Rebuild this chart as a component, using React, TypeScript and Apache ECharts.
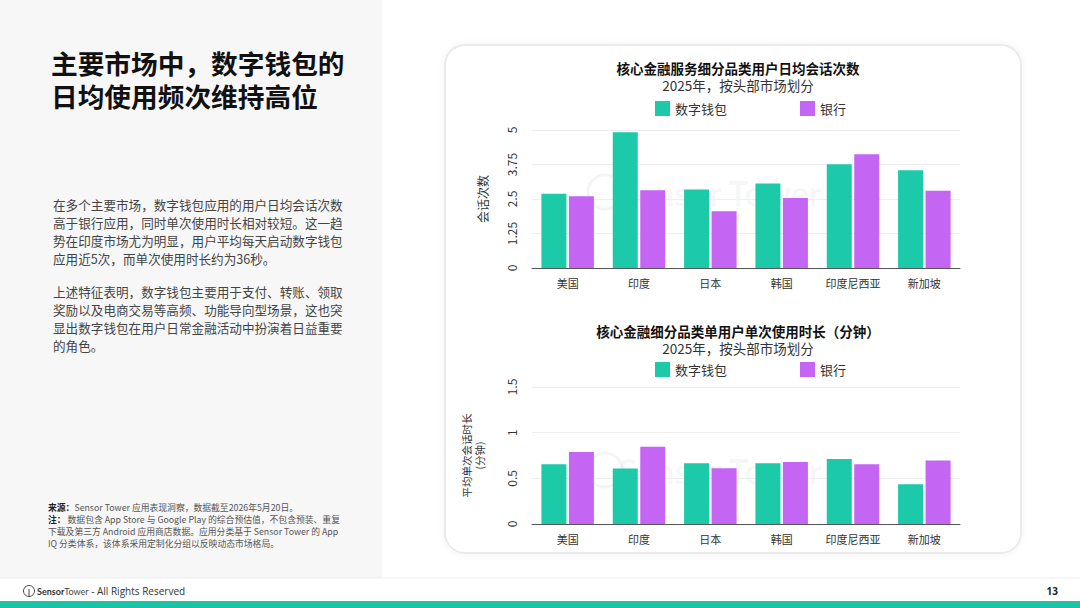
import React, { useEffect, useRef } from "react";
import * as echarts from "echarts";

const categories = ["美国", "印度", "日本", "韩国", "印度尼西亚", "新加坡"];
const seriesNames = ["数字钱包", "银行"];
const sessionsWallet = [2.69, 4.92, 2.84, 3.06, 3.76, 3.54];
const sessionsBank = [2.6, 2.82, 2.06, 2.54, 4.12, 2.8];
const durationWallet = [0.655, 0.607, 0.666, 0.666, 0.713, 0.435];
const durationBank = [0.787, 0.845, 0.611, 0.68, 0.655, 0.695];

const headline = ["主要市场中，数字钱包的", "日均使用频次维持高位"];
const para1 = [
  "在多个主要市场，数字钱包应用的用户日均会话次数",
  "高于银行应用，同时单次使用时长相对较短。这一趋",
  "势在印度市场尤为明显，用户平均每天启动数字钱包",
  "应用近5次，而单次使用时长约为36秒。",
];
const para2 = [
  "上述特征表明，数字钱包主要用于支付、转账、领取",
  "奖励以及电商交易等高频、功能导向型场景，这也突",
  "显出数字钱包在用户日常金融活动中扮演着日益重要",
  "的角色。",
];
const notes = [
  "{b|来源：}Sensor Tower 应用表现洞察，数据截至2026年5月20日。",
  "{b|注：} 数据包含 App Store 与 Google Play 的综合预估值，不包含预装、重复",
  "下载及第三方 Android 应用商店数据。应用分类基于 Sensor Tower 的 App",
  "IQ 分类体系，该体系采用定制化分组以反映动态市场格局。",
];
const chart1Title = "核心金融服务细分品类用户日均会话次数";
const chart2Title = "核心金融细分品类单用户单次使用时长（分钟）";
const subTitle = "2025年，按头部市场划分";

const TEAL = "#1cc9a9";
const PURPLE = "#c466f3";
const FONT = "'Noto Sans CJK SC', 'Noto Sans', sans-serif";

export default function App() {
  const ref = useRef<HTMLDivElement>(null);
  useEffect(() => {
    document.body.style.margin = "0";
    const chart = echarts.init(ref.current!, null, { renderer: "svg" });
    const txt = (x: number, y: number, text: string, style: any = {}) => ({
      type: "text",
      x,
      y,
      style: {
        text,
        fontFamily: FONT,
        fill: "#222",
        fontSize: 13,
        verticalAlign: "middle",
        ...style,
      },
    });
    const graphics: any[] = [
      { type: "rect", z: -10, shape: { x: 0, y: 0, width: 382, height: 578 }, style: { fill: "#f7f7f7" } },
      { type: "line", z: -10, shape: { x1: 0, y1: 578, x2: 1080, y2: 578 }, style: { stroke: "#eeeeee", lineWidth: 1 } },
      { type: "rect", z: -10, shape: { x: 0, y: 601, width: 1080, height: 7 }, style: { fill: "#1bc3a6" } },
      {
        type: "rect",
        z: -9,
        shape: { x: 445, y: 45, width: 576, height: 508, r: 20 },
        style: { fill: "#ffffff", stroke: "#ebebeb", lineWidth: 2, shadowBlur: 6, shadowColor: "rgba(0,0,0,0.06)" },
      },
      // watermarks
      txt(720, 192, "Sensor Tower", { fill: "rgba(0,0,0,0.045)", fontSize: 34, fontWeight: "bold", textAlign: "center", fontFamily: "Lato, sans-serif" }),
      { type: "circle", z: -8, shape: { cx: 605, cy: 192, r: 17 }, style: { fill: "none", stroke: "rgba(0,0,0,0.045)", lineWidth: 3 } },
      txt(720, 470, "Sensor Tower", { fill: "rgba(0,0,0,0.045)", fontSize: 34, fontWeight: "bold", textAlign: "center", fontFamily: "Lato, sans-serif" }),
      { type: "circle", z: -8, shape: { cx: 605, cy: 470, r: 17 }, style: { fill: "none", stroke: "rgba(0,0,0,0.045)", lineWidth: 3 } },
      // headline
      ...headline.map((l, i) => txt(51, 62 + i * 33, l, { fontSize: 26.7, lineHeight: 27, fontWeight: "bold", fill: "#111" })),
      ...para1.map((l, i) => txt(53, 204 + i * 18, l, { fontSize: 12.6, lineHeight: 14, fill: "#444" })),
      ...para2.map((l, i) => txt(53, 291 + i * 18, l, { fontSize: 12.6, lineHeight: 14, fill: "#444" })),
      ...notes.map((l, i) =>
        txt(48, 507 + i * 12, l, {
          fontSize: 8.8,
          lineHeight: 10,
          fill: "#555",
          rich: { b: { fontSize: 8.8, lineHeight: 10, fontWeight: "bold", fill: "#222", fontFamily: FONT } },
        })
      ),
      // chart titles
      txt(738, 68, chart1Title, { fontSize: 13.5, lineHeight: 14, fontWeight: "bold", textAlign: "center", fill: "#111" }),
      txt(738, 85, subTitle, { fontSize: 13.5, lineHeight: 14, textAlign: "center", fill: "#333" }),
      txt(738, 331, chart2Title, { fontSize: 13.5, lineHeight: 14, fontWeight: "bold", textAlign: "center", fill: "#111" }),
      txt(738, 348, subTitle, { fontSize: 13.5, lineHeight: 14, textAlign: "center", fill: "#333" }),
      // footer
      { type: "circle", shape: { cx: 29, cy: 591, r: 5.5 }, style: { fill: "none", stroke: "#444", lineWidth: 1 } },
      { type: "line", shape: { x1: 29, y1: 589, x2: 29, y2: 596 }, style: { stroke: "#444", lineWidth: 1 } },
      txt(37, 591, "{a|Sensor}{c|Tower}{d| - All Rights Reserved}", {
        rich: {
          a: { fontSize: 9, fontWeight: "bold", fill: "#333", fontFamily: "Lato, sans-serif" },
          c: { fontSize: 9, fill: "#444", fontFamily: "Lato, sans-serif" },
          d: { fontSize: 10, fill: "#333", fontFamily: "'Open Sans', sans-serif" },
        },
      }),
      txt(1058, 591, "13", { fontSize: 10, fontWeight: "bold", textAlign: "right", fill: "#222", fontFamily: "'Open Sans', sans-serif" }),
    ];

    const xAxisBase = (gridIndex: number) => ({
      type: "category",
      gridIndex,
      data: categories,
      axisLine: { lineStyle: { color: "#555", width: 1 } },
      axisTick: { show: false },
      axisLabel: { color: "#333", fontSize: 11, margin: 9, interval: 0, fontFamily: FONT },
    });
    const yAxisBase = (gridIndex: number, max: number, interval: number, name: string, nameGap: number, nameSize: number) => ({
      type: "value",
      gridIndex,
      min: 0,
      max,
      interval,
      name,
      nameLocation: "middle",
      nameGap,
      nameTextStyle: { color: "#333", fontSize: nameSize, fontFamily: FONT, lineHeight: 13 },
      axisLine: { show: false },
      axisTick: { show: false },
      splitLine: { lineStyle: { color: "#eeeeee" } },
      axisLabel: { color: "#333", fontSize: 12, rotate: 90, margin: 15, fontFamily: FONT },
    });
    const legendBase = (top: number) => ({
      top,
      left: 650,
      itemWidth: 15,
      itemHeight: 15,
      itemGap: 73,
      icon: "rect",
      data: seriesNames,
      textStyle: { fontSize: 13, color: "#333", fontFamily: FONT },
      selectedMode: false,
    });
    const bar = (name: string, data: number[], color: string, idx: number) => ({
      type: "bar",
      name,
      data,
      xAxisIndex: idx,
      yAxisIndex: idx,
      barWidth: 25,
      barGap: "10%",
      itemStyle: { color },
    });

    chart.setOption({
      animation: false,
      textStyle: { fontFamily: FONT },
      graphic: graphics,
      legend: [legendBase(96), legendBase(357)],
      grid: [
        { left: 532, width: 428, top: 130, height: 138 },
        { left: 532, width: 428, top: 387, height: 137 },
      ],
      xAxis: [xAxisBase(0), xAxisBase(1)],
      yAxis: [
        yAxisBase(0, 5, 1.25, "会话次数", 43, 12),
        yAxisBase(1, 1.5, 0.5, "平均单次会话时长\n(分钟)", 46, 10.5),
      ],
      series: [
        bar(seriesNames[0], sessionsWallet, TEAL, 0),
        bar(seriesNames[1], sessionsBank, PURPLE, 0),
        bar(seriesNames[0], durationWallet, TEAL, 1),
        bar(seriesNames[1], durationBank, PURPLE, 1),
      ],
    });
    return () => chart.dispose();
  }, []);
  return <div ref={ref} style={{ position: "absolute", left: 0, top: 0, width: 1080, height: 608, background: "#fff" }} />;
}
